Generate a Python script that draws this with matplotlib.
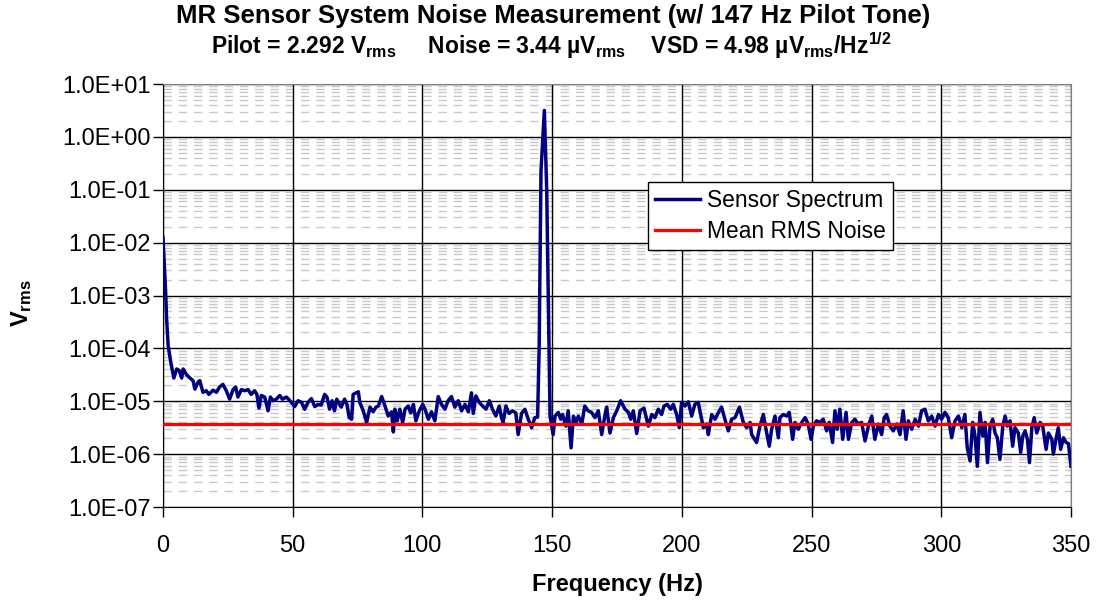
import matplotlib
matplotlib.use('Agg')
import matplotlib.pyplot as plt
import matplotlib.ticker as mticker
import numpy as np

# spectrum: frequency (Hz) and log10 of Vrms
freq_hz = [
    0.0, 0.5, 1.0, 1.4, 2.0, 3.0, 4.2, 5.3, 6.3, 7.2, 7.8, 9.1, 10.4, 11.6, 12.3,
    13.5, 14.2, 15.4, 16.7, 17.7, 19.3, 20.6, 21.8, 23.1, 24.4, 25.7, 27.0, 28.0,
    28.9, 30.2, 31.5, 32.8, 34.0, 35.3, 36.2, 37.0, 37.9, 39.2, 40.5, 41.4, 42.4,
    43.7, 45.0, 46.0, 47.6, 49.5, 50.8, 52.1, 53.4, 54.6, 55.9, 57.2, 58.5, 59.8,
    61.0, 62.3, 63.2, 64.2, 65.2, 66.1, 67.0, 68.7, 70.0, 70.9, 71.8, 72.7, 73.3,
    75.3, 75.9, 77.2, 78.5, 79.8, 81.0, 82.1, 83.0, 84.3, 85.6, 86.8, 88.1, 88.8,
    89.4, 90.3, 91.3, 92.4, 93.3, 94.5, 95.5, 96.5, 97.5, 98.8, 100.1, 101.0,
    102.3, 103.5, 104.8, 106.1, 107.4, 108.7, 109.9, 111.2, 112.5, 113.8, 115.1,
    116.4, 117.7, 118.9, 119.6, 120.6, 121.9, 123.2, 124.5, 125.8, 127.0, 128.3,
    129.6, 130.5, 131.1, 132.2, 133.4, 134.7, 136.0, 136.9, 138.2, 139.5, 140.8,
    142.1, 143.3, 144.4, 145.0, 145.7, 147.0, 147.9, 149.2, 150.4, 151.1, 152.4,
    153.3, 154.0, 155.3, 156.2, 157.3, 158.2, 159.2, 160.1, 161.4, 162.6, 163.9,
    165.2, 166.5, 167.8, 169.1, 170.4, 171.0, 172.3, 173.6, 174.9, 176.4, 178.1,
    179.4, 180.3, 181.3, 182.6, 183.9, 185.4, 187.1, 188.4, 189.6, 190.9, 192.2,
    193.1, 194.4, 195.7, 196.7, 198.0, 199.0, 199.9, 201.2, 202.5, 203.8, 205.0,
    206.3, 207.4, 208.3, 209.6, 210.2, 211.5, 212.8, 214.1, 215.3, 216.6, 217.9,
    219.2, 220.5, 222.2, 223.7, 225.0, 226.3, 226.9, 228.8, 230.1, 231.4, 232.7,
    233.7, 234.6, 235.9, 237.2, 237.8, 239.1, 240.4, 241.4, 242.7, 243.6, 244.9,
    246.2, 247.5, 248.7, 249.8, 250.7, 251.9, 253.2, 254.5, 255.8, 256.8, 258.1,
    259.0, 259.9, 260.9, 262.0, 263.3, 264.2, 265.5, 266.7, 268.0, 269.3, 270.6,
    271.9, 273.2, 274.4, 275.7, 277.0, 278.0, 278.9, 280.2, 281.5, 282.8, 284.1,
    285.3, 286.4, 287.3, 288.6, 289.9, 291.2, 292.4, 293.7, 295.0, 296.3, 297.6,
    298.9, 300.1, 301.4, 302.7, 304.0, 305.3, 306.6, 307.9, 309.1, 310.0, 311.1,
    312.1, 313.0, 313.9, 314.9, 316.0, 316.9, 317.8, 318.8, 319.8, 320.7, 321.6,
    322.6, 323.7, 324.6, 325.4, 326.5, 327.5, 328.4, 329.7, 330.6, 331.4, 332.3,
    333.2, 334.0, 334.9, 335.8, 336.8, 338.1, 339.1, 340.4, 341.3, 342.6, 343.2,
    344.2, 345.1, 346.0, 347.1, 348.1, 349.0, 350.0,
]
log_vrms = [
    -1.90, -2.40, -2.90, -3.44, -3.95, -4.26, -4.56, -4.39, -4.42, -4.56, -4.39, -4.50, -4.56, -4.61, -4.77,
    -4.64, -4.61, -4.83, -4.80, -4.87, -4.79, -4.83, -4.73, -4.68, -4.80, -4.96, -4.78, -4.73,
    -4.92, -4.78, -4.80, -4.78, -4.87, -4.80, -4.87, -5.13, -4.89, -4.92, -5.18, -4.92, -4.99,
    -4.96, -4.89, -4.96, -4.92, -5.02, -5.10, -4.99, -5.02, -5.15, -5.02, -4.95, -5.10, -5.06,
    -5.07, -4.87, -4.92, -5.15, -4.99, -5.18, -4.96, -5.11, -4.96, -5.06, -5.31, -5.34, -4.87,
    -4.82, -5.03, -5.18, -5.40, -5.11, -5.20, -5.11, -5.09, -4.91, -5.09, -5.28, -5.20, -5.58,
    -5.15, -5.37, -5.15, -5.40, -5.15, -5.09, -5.22, -5.06, -5.37, -5.18, -5.06, -5.15,
    -5.34, -5.20, -5.37, -4.91, -5.06, -5.15, -4.99, -4.91, -5.11, -4.99, -5.18,
    -5.06, -5.20, -4.84, -5.23, -4.90, -5.02, -5.09, -5.15, -4.99, -5.15, -5.28,
    -5.09, -5.31, -5.40, -5.09, -5.23, -5.18, -5.22, -5.63, -5.23, -5.15, -5.34,
    -5.50, -5.31, -5.30, -4.00, -0.65, 0.50, -0.98, -5.28, -5.63, -5.28, -5.21,
    -5.34, -5.25, -5.47, -5.18, -5.88, -5.28, -5.40, -5.28, -5.43, -5.09, -5.18,
    -5.21, -5.31, -5.18, -5.63, -5.25, -5.11, -5.60, -5.31, -5.18, -4.99, -5.15,
    -5.21, -5.34, -5.18, -5.61, -5.18, -5.13, -5.47, -5.25, -5.31, -5.15, -5.25,
    -5.09, -5.06, -5.15, -5.06, -5.25, -5.50, -5.02, -5.09, -5.01, -5.28, -5.06,
    -5.02, -5.28, -5.50, -5.43, -5.63, -5.25, -5.34, -5.21, -5.11, -5.34, -5.56,
    -5.34, -5.31, -5.11, -5.40, -5.50, -5.40, -5.63, -5.78, -5.47, -5.25, -5.60,
    -5.85, -5.53, -5.28, -5.69, -5.31, -5.25, -5.28, -5.21, -5.72, -5.40, -5.53,
    -5.40, -5.31, -5.43, -5.72, -5.47, -5.37, -5.40, -5.34, -5.56, -5.40, -5.78,
    -5.18, -5.53, -5.15, -5.72, -5.21, -5.72, -5.40, -5.34, -5.43, -5.40, -5.75,
    -5.47, -5.28, -5.72, -5.43, -5.63, -5.31, -5.25, -5.47, -5.56, -5.43, -5.63,
    -5.18, -5.72, -5.37, -5.53, -5.34, -5.47, -5.18, -5.15, -5.37, -5.28, -5.47,
    -5.25, -5.34, -5.21, -5.31, -5.69, -5.37, -5.28, -5.50, -5.25, -5.88, -6.13,
    -5.40, -5.66, -6.23, -5.21, -5.66, -5.40, -6.16, -5.47, -5.34, -5.60, -5.69,
    -6.10, -5.47, -5.28, -5.47, -5.37, -5.85, -5.50, -5.60, -5.97, -5.66, -5.56,
    -5.72, -6.16, -5.50, -5.31, -5.60, -5.40, -5.47, -5.91, -5.60, -5.72, -6.00,
    -5.72, -5.50, -5.91, -5.69, -5.78, -5.80, -6.23,
]
mean_noise = 3.65e-6

plt.rcParams['font.family'] = ['Liberation Sans', 'DejaVu Sans']
plt.rcParams['mathtext.fontset'] = 'custom'
plt.rcParams['mathtext.rm'] = 'Liberation Sans:bold'
plt.rcParams['mathtext.bf'] = 'Liberation Sans:bold'
plt.rcParams['mathtext.default'] = 'rm'

vrms = 10 ** np.array(log_vrms)

fig = plt.figure(figsize=(10.96, 6.07), dpi=100)
ax = fig.add_axes([0.1487, 0.1647, 0.8285, 0.6969])

ax.plot(freq_hz, vrms, color='#000080', lw=2.5, label='Sensor Spectrum', zorder=3)
ax.axhline(mean_noise, color='#ff0000', lw=2.3, label='Mean RMS Noise', zorder=4)

ax.set_yscale('log')
ax.set_ylim(1e-7, 1e1)
ax.set_xlim(0, 350)
ax.set_xticks([0, 50, 100, 150, 200, 250, 300, 350])
ax.yaxis.set_major_locator(mticker.LogLocator(base=10, numticks=20))
ax.yaxis.set_minor_locator(mticker.LogLocator(base=10, subs=np.arange(2, 10), numticks=20))
ax.yaxis.set_major_formatter(mticker.FuncFormatter(lambda v, p: f'{v:.1E}'))
ax.yaxis.set_minor_formatter(mticker.NullFormatter())

ax.grid(which='minor', axis='y', color='#c8c8c8', lw=1, ls=(0, (6, 5)))
ax.grid(which='major', axis='both', color='black', lw=1)
ax.set_axisbelow(True)
# vertical grid lines drawn over the dashed minor lines
ax.xaxis.set_zorder(0.7)

ax.tick_params(which='major', labelsize=17, length=7, width=1, color='black')
ax.tick_params(axis='y', pad=2)
ax.tick_params(axis='x', pad=13)
ax.tick_params(which='minor', length=0)
for s in ['top', 'right']:
    ax.spines[s].set_color('#808080')
for s in ['left', 'bottom']:
    ax.spines[s].set_color('black')

ax.set_xlabel('Frequency (Hz)', fontsize=17, fontweight='bold', labelpad=12)
fig.text(0.02, 0.50, r'V$_{\rm rms}$', rotation=90, fontsize=17, fontweight='bold',
         ha='center', va='center')

fig.text(0.505, 0.993, 'MR Sensor System Noise Measurement (w/ 147 Hz Pilot Tone)',
         fontsize=18.5, fontweight='bold', ha='center', va='top')
fig.text(0.503, 0.911,
         r'Pilot = 2.292 V$_{\rm rms}$     Noise = 3.44 µV$_{\rm rms}$    VSD = 4.98 µV$_{\rm rms}$/Hz$^{1/2}$',
         fontsize=16.5, fontweight='bold', ha='center', va='baseline')

leg = ax.legend(loc='upper left', bbox_to_anchor=(0.534, 0.768), borderaxespad=0,
                fontsize=16.4, fancybox=False, framealpha=1, edgecolor='black',
                handlelength=2.0, handletextpad=0.3, labelspacing=0.35, borderpad=0.3)
leg.get_frame().set_linewidth(1)

fig.savefig('out.png', dpi=100)
